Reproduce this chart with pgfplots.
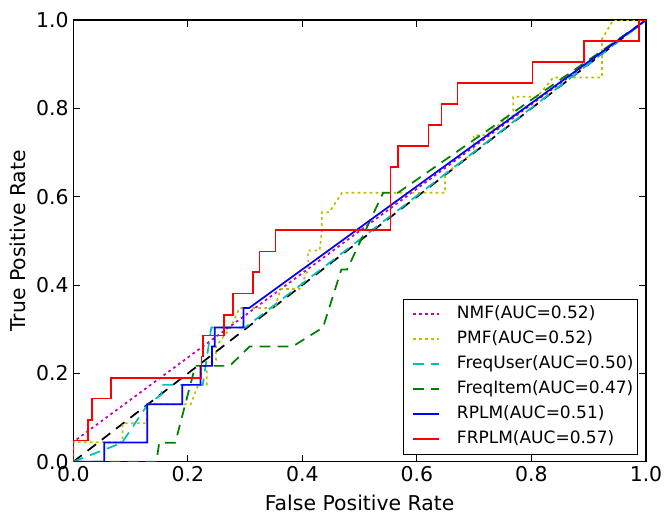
\documentclass[border=0pt]{standalone}
\usepackage{pgfplots}
\pgfplotsset{compat=1.18}
\usepackage{fontspec}
\setmainfont{DejaVu Sans}
\definecolor{mplmag}{rgb}{0.75,0,0.75}
\definecolor{mplyel}{rgb}{0.75,0.75,0}
\definecolor{mplcya}{rgb}{0,0.75,0.75}
\definecolor{mplgre}{rgb}{0,0.5,0}
\definecolor{mplblu}{rgb}{0,0,1}
\definecolor{mplred}{rgb}{1,0,0}
\begin{document}
\begin{tikzpicture}
\path[use as bounding box] (-55pt,-40pt) rectangle (443pt,346.3pt);
\begin{axis}[
  at={(0,0)}, anchor=south west,
  scale only axis, width=429.5pt, height=331.3pt,
  xmin=0, xmax=1, ymin=0, ymax=1,
  xtick={0,0.2,0.4,0.6,0.8,1}, ytick={0,0.2,0.4,0.6,0.8,1},
  tick align=inside, major tick length=5pt,
  tick style={black, line width=0.8pt},
  axis line style={black, line width=1pt},
  /pgf/number format/.cd, fixed, fixed zerofill, precision=1, assume math mode=true,
  /pgfplots/.cd,
  tick label style={font=\fontsize{15.3}{18}\selectfont},
  xlabel={False Positive Rate}, ylabel={True Positive Rate},
  every axis x label/.style={at={(axis description cs:0.5,-0.1093)}, anchor=base, font=\fontsize{15.3}{18}\selectfont},
  every axis y label/.style={at={(axis description cs:-0.0827,0.5)}, anchor=base, rotate=90, font=\fontsize{15.3}{18}\selectfont},
  legend cell align=left,
  legend image code/.code={\path (0pt,0pt); \draw[#1] (5pt,0pt) -- (24.2pt,0pt);},
  legend image post style={line width=1.3pt},
  legend style={
    at={(0.9855,0.0174)}, anchor=south east,
    draw=black, fill=white,
    font=\fontsize{12.75}{15}\selectfont,
    inner xsep=2pt, inner ysep=4.2pt,
    row sep=4.75pt,
    nodes={inner sep=1pt, text height=9.5pt, text depth=2.5pt},
    /tikz/every odd column/.append style={column sep=11.8pt},
  },
]
\addplot[draw=black, line width=1.3pt, dash pattern=on 8pt off 5.5pt, forget plot] coordinates {(0,0) (1,1)};

\addplot[draw=mplmag, line width=1.3pt, dash pattern=on 2pt off 2.5pt] coordinates {(0,0) (0,0.045) (1,1)};
\addlegendentry{NMF(AUC=0.52)}

\addplot[draw=mplyel, line width=1.3pt, dash pattern=on 2pt off 2.5pt] coordinates {
(0,0) (0,0.044) (0.086,0.044) (0.086,0.087) (0.128,0.087) (0.128,0.130) (0.205,0.130)
(0.218,0.174) (0.233,0.174) (0.233,0.217) (0.249,0.230) (0.249,0.261) (0.275,0.304)
(0.29,0.348) (0.352,0.348) (0.362,0.391) (0.395,0.391) (0.41,0.435) (0.41,0.478)
(0.43,0.478) (0.434,0.522) (0.434,0.565) (0.447,0.565) (0.469,0.609) (0.649,0.609)
(0.649,0.652) (0.699,0.70) (0.699,0.739) (0.72,0.739) (0.762,0.783) (0.768,0.783)
(0.768,0.826) (0.81,0.826) (0.838,0.87) (0.923,0.87) (0.923,0.957) (0.943,1) (1,1)};
\addlegendentry{PMF(AUC=0.52)}

\addplot[draw=mplcya, line width=1.3pt, dash pattern=on 8pt off 5.5pt] coordinates {
(0,0) (0.085,0.043) (0.13,0.13) (0.154,0.152) (0.154,0.174) (0.226,0.174)
(0.241,0.304) (0.30,0.304) (1,1)};
\addlegendentry{FreqUser(AUC=0.50)}

\addplot[draw=mplgre, line width=1.3pt, dash pattern=on 8pt off 5.5pt] coordinates {
(0,0) (0.145,0) (0.15,0.043) (0.178,0.043) (0.213,0.217) (0.273,0.217) (0.308,0.261)
(0.383,0.261) (0.436,0.304) (0.468,0.435) (0.478,0.435) (0.541,0.609) (0.567,0.609) (1,1)};
\addlegendentry{FreqItem(AUC=0.47)}

\addplot[draw=mplblu, line width=1.3pt] coordinates {
(0,0) (0.054,0) (0.054,0.0435) (0.129,0.0435) (0.129,0.130) (0.190,0.130) (0.190,0.174)
(0.222,0.174) (0.222,0.217) (0.242,0.217) (0.242,0.261) (0.247,0.261) (0.247,0.304)
(0.297,0.304) (0.297,0.348) (0.307,0.348) (1,1)};
\addlegendentry{RPLM(AUC=0.51)}

\addplot[draw=mplred, line width=1.3pt] coordinates {
(0,0) (0,0.048) (0.026,0.048) (0.026,0.095) (0.033,0.095) (0.033,0.143) (0.066,0.143)
(0.066,0.190) (0.224,0.190) (0.224,0.238) (0.227,0.238) (0.227,0.286) (0.263,0.286)
(0.263,0.333) (0.279,0.333) (0.279,0.381) (0.314,0.381) (0.314,0.429) (0.325,0.429)
(0.325,0.476) (0.353,0.476) (0.353,0.524) (0.554,0.524) (0.554,0.667) (0.567,0.667)
(0.567,0.714) (0.620,0.714) (0.620,0.762) (0.643,0.762) (0.643,0.810) (0.671,0.810)
(0.671,0.857) (0.802,0.857) (0.802,0.905) (0.892,0.905) (0.892,0.952) (0.988,0.952)
(0.988,1) (1,1)};
\addlegendentry{FRPLM(AUC=0.57)}
\end{axis}
\end{tikzpicture}
\end{document}
